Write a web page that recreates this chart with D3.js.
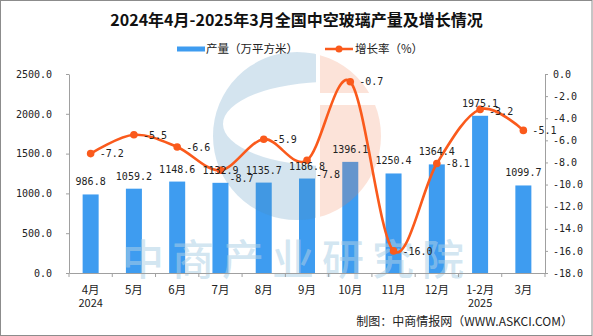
<!DOCTYPE html>
<html>
<head>
<meta charset="utf-8">
<script src="https://cdn.jsdelivr.net/npm/d3@7"></script>
<style>
  html, body { margin: 0; padding: 0; background: #fff; }
  svg { display: block; }
</style>
</head>
<body>
<svg id="chart" width="593" height="336"></svg>
<script>
// ---------- data ----------
const categories = ["4月","5月","6月","7月","8月","9月","10月","11月","12月","1-2月","3月"];
const yearLabels = ["2024","","","","","","","","","2025",""];
const production = [986.8, 1059.2, 1148.6, 1132.9, 1135.7, 1186.8, 1396.1, 1250.4, 1364.4, 1975.1, 1099.7];
const growth = [-7.2, -5.5, -6.6, -8.7, -5.9, -7.8, -0.7, -16.0, -8.1, -3.2, -5.1];
const leftTicks = [0, 500, 1000, 1500, 2000, 2500];
const rightTicks = [0, -2, -4, -6, -8, -10, -12, -14, -16, -18];
const titleText = "2024年4月-2025年3月全国中空玻璃产量及增长情况";
const legendBar = "产量（万平方米）";
const legendLine = "增长率（%）";
const sourceText = "制图：中商情报网（WWW.ASKCI.COM）";
const watermarkText = "中商产业研究院";

// ---------- setup ----------
const svg = d3.select("#chart");
const W = 593, H = 336;
const plot = { left: 69, right: 545, top: 74, bottom: 273 };
const BAR = "#3e9cf0", LINE = "#fa5a1c", AXIS = "#a0a0a0";
const MONO = "'DejaVu Sans Mono', monospace";
const CJK = "'Noto Sans CJK SC', 'Noto Sans', sans-serif";
const fmt = d3.formatLocale({decimal: ".", thousands: ",", grouping: [3], currency: ["", ""], minus: "-"}).format(".1f");

svg.append("rect").attr("x", 0.5).attr("y", 0.5).attr("width", W - 1.5).attr("height", H - 1)
  .attr("fill", "#fff").attr("stroke", "#8c8c8c");

const x = d3.scaleBand().domain(categories).range([plot.left, plot.right])
  .paddingInner(0.63).paddingOuter(0.315);
const yL = d3.scaleLinear().domain([0, 2500]).range([plot.bottom, plot.top]);
const yR = d3.scaleLinear().domain([-18, 0]).range([plot.bottom, plot.top]);
const cx = c => x(c) + x.bandwidth() / 2;

// ---------- title & legend ----------
svg.append("text").attr("x", 296.5).attr("y", 26).attr("text-anchor", "middle")
  .attr("font-family", CJK).attr("font-weight", 700).attr("font-size", 16).attr("fill", "#111")
  .text(titleText);

const lg = svg.append("g");
lg.append("rect").attr("x", 177).attr("y", 46.5).attr("width", 28).attr("height", 5).attr("fill", BAR);
lg.append("text").attr("x", 206).attr("y", 53).attr("font-family", CJK).attr("font-size", 11.5)
  .attr("fill", "#222").text(legendBar);
lg.append("line").attr("x1", 325).attr("x2", 353).attr("y1", 49).attr("y2", 49)
  .attr("stroke", LINE).attr("stroke-width", 2.5);
lg.append("circle").attr("cx", 339).attr("cy", 49).attr("r", 3.5).attr("fill", LINE);
lg.append("text").attr("x", 355).attr("y", 53).attr("font-family", CJK).attr("font-size", 11.5)
  .attr("fill", "#222").text(legendLine);

// ---------- bars ----------
svg.append("g").selectAll("rect").data(production).join("rect")
  .attr("x", (d, i) => x(categories[i]))
  .attr("y", d => yL(d))
  .attr("width", x.bandwidth())
  .attr("height", d => plot.bottom - yL(d))
  .attr("fill", BAR);

// ---------- watermark (between bars and line) ----------
const defs = svg.append("defs");
const wmC = { x: 297, y: 136, r: 84 };
defs.append("clipPath").attr("id", "clipBlue").append("rect")
  .attr("x", 150).attr("y", 0).attr("width", 166).attr("height", 336);
const co = defs.append("clipPath").attr("id", "clipOrange");
co.append("rect").attr("x", 320).attr("y", 0).attr("width", 120).attr("height", 93);
co.append("rect").attr("x", 320).attr("y", 105).attr("width", 120).attr("height", 200);
const circlePath = (c) => `M${c.x - c.r},${c.y}a${c.r},${c.r} 0 1,0 ${2 * c.r},0a${c.r},${c.r} 0 1,0 ${-2 * c.r},0Z`;
const ell = { x: 330, y: 124, rx: 107, ry: 42 };
const ellPath = `M${ell.x - ell.rx},${ell.y}a${ell.rx},${ell.ry} 0 1,0 ${2 * ell.rx},0a${ell.rx},${ell.ry} 0 1,0 ${-2 * ell.rx},0Z`;
const wm = svg.append("g");
wm.append("path").attr("d", circlePath(wmC) + ellPath).attr("fill-rule", "evenodd")
  .attr("fill", "#4b8fbb").attr("fill-opacity", 0.24).attr("clip-path", "url(#clipBlue)");
wm.append("path").attr("d", circlePath(wmC))
  .attr("fill", "#f08050").attr("fill-opacity", 0.22).attr("clip-path", "url(#clipOrange)");
wm.append("text").attr("x", 122).attr("y", 275).attr("font-family", CJK).attr("font-weight", 500)
  .attr("font-size", 42).attr("letter-spacing", 8)
  .attr("fill", "#aed0e6").attr("fill-opacity", 0.55).text(watermarkText);

// ---------- axes ----------
function styleAxis(g) {
  g.selectAll(".domain").attr("stroke", AXIS);
  g.selectAll(".tick line").attr("stroke", AXIS);
  g.selectAll(".tick text").attr("font-family", MONO).attr("font-size", 10).attr("fill", "#222");
}
svg.append("g").attr("transform", `translate(${plot.left},0)`)
  .call(d3.axisLeft(yL).tickValues(leftTicks).tickFormat(fmt).tickSize(3).tickSizeOuter(0).tickPadding(14))
  .call(styleAxis);
svg.append("g").attr("transform", `translate(${plot.right},0)`)
  .call(d3.axisRight(yR).tickValues(rightTicks).tickFormat(fmt).tickSize(3).tickSizeOuter(0).tickPadding(5))
  .call(styleAxis);

const xg = svg.append("g").attr("transform", `translate(0,${plot.bottom})`)
  .call(d3.axisBottom(x).tickSize(0).tickSizeOuter(0).tickPadding(0).tickFormat(""));
xg.select(".domain").attr("stroke", AXIS);
const bounds = d3.range(categories.length + 1).map(i => plot.left + i * x.step());
xg.selectAll(".bnd").data(bounds).join("line").attr("class", "bnd")
  .attr("x1", d => d).attr("x2", d => d).attr("y1", 0).attr("y2", 4).attr("stroke", AXIS);
xg.selectAll(".tick").append("text").attr("y", 20.5).attr("text-anchor", "middle")
  .attr("font-family", CJK).attr("font-size", 11.5).attr("fill", "#222").text(d => d);
xg.selectAll(".tick").append("text").attr("y", 34).attr("text-anchor", "middle")
  .attr("font-family", CJK).attr("font-size", 11).attr("fill", "#222")
  .text((d, i) => yearLabels[i]);

// ---------- line ----------
const pts = growth.map((g, i) => [cx(categories[i]), yR(g)]);
svg.append("path").datum(pts)
  .attr("d", d3.line().curve(d3.curveCardinal.tension(0)))
  .attr("fill", "none").attr("stroke", LINE).attr("stroke-width", 2.6);
svg.append("g").selectAll("circle").data(pts).join("circle")
  .attr("cx", d => d[0]).attr("cy", d => d[1]).attr("r", 3.8).attr("fill", LINE);

// ---------- labels ----------
const barLab = svg.append("g").selectAll("text").data(production).join("text")
  .attr("x", (d, i) => cx(categories[i]))
  .attr("y", d => yL(d) - 9)
  .attr("text-anchor", "middle").attr("font-family", MONO).attr("font-size", 10).attr("fill", "#222")
  .text(d => fmt(d));
const boxes = [];
barLab.each(function(d, i) {
  const w = this.getComputedTextLength();
  const c = cx(categories[i]), b = yL(d) - 9;
  boxes.push({ x0: c - w / 2, x1: c + w / 2, y0: b - 7.5, y1: b + 0.5 });
});
const lineLab = svg.append("g");
pts.forEach((p, i) => {
  const t = lineLab.append("text").attr("font-family", MONO).attr("font-size", 10)
    .attr("fill", "#222").text(fmt(growth[i]));
  const w = t.node().getComputedTextLength();
  const hit = (dx, dy) => boxes.some(b => {
    const x0 = p[0] + dx, x1 = x0 + w, y0 = p[1] + dy - 3.8, y1 = p[1] + dy + 3.8;
    return x0 < b.x1 + 1 && x1 > b.x0 - 1 && y0 < b.y1 && y1 > b.y0;
  });
  // first try nudging right a little, then move down
  let dx = 9, dy = 0;
  if (hit(dx, dy)) {
    let found = false;
    for (let k = 1; k <= 8 && !found; k++) if (!hit(9 + k, 0)) { dx = 9 + k; found = true; }
    if (!found) { dx = 9; while (hit(dx, dy) && dy < 25) dy += 1; }
  }
  t.attr("x", p[0] + dx).attr("y", p[1] + dy + 3.7);
});

// ---------- source ----------
svg.append("text").attr("x", 573).attr("y", 326).attr("text-anchor", "end")
  .attr("font-family", CJK).attr("font-size", 12).attr("fill", "#222").text(sourceText);
</script>
</body>
</html>
